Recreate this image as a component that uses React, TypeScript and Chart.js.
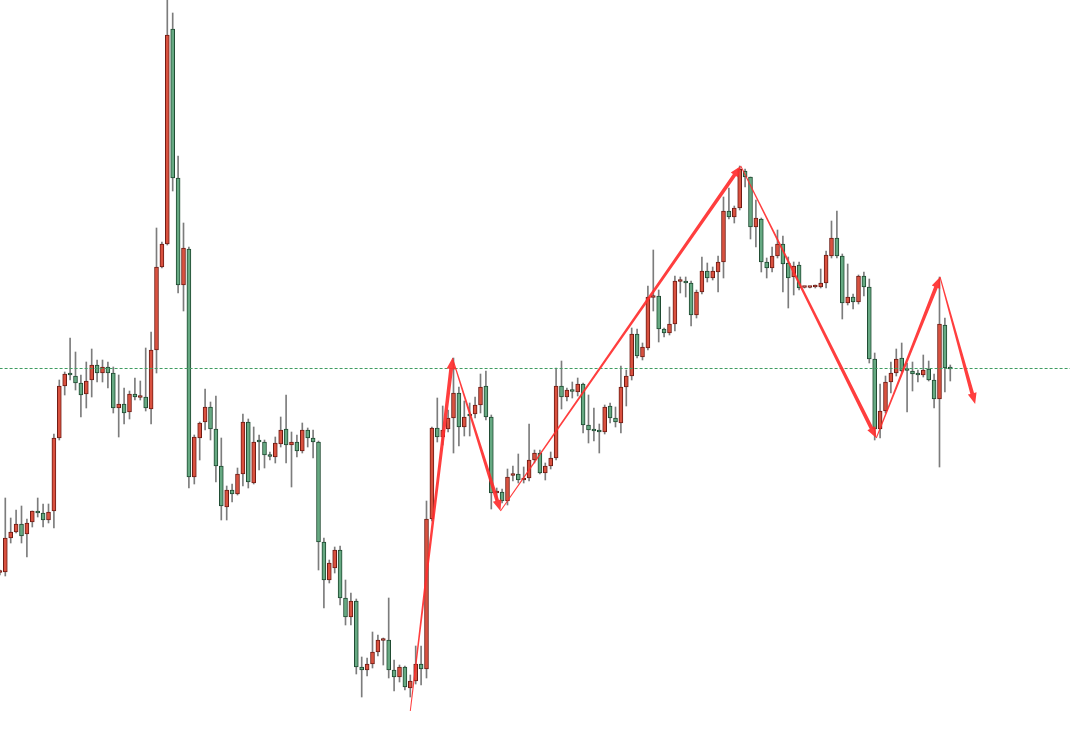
import React, { useEffect, useRef } from 'react';
import { Chart, registerables } from 'chart.js';

Chart.register(...registerables);

// OHLC prices, one entry per bar (index 0 is the partly hidden bar at the left edge)
const opens = [
  427.5, 428, 462, 468, 476, 466, 478, 488, 487, 480, 489, 562, 614, 626, 624, 617, 606, 620, 635, 627,
  633, 627, 592, 596, 588, 606, 602.5, 603, 591, 650, 733, 756, 971, 822, 715, 751, 523, 562, 578, 593,
  571, 534, 493, 510, 506, 526, 578, 517, 558.5, 558, 544, 543, 556, 571, 555, 558, 549, 570, 562, 558,
  458, 420, 432, 450, 402, 383, 399, 333, 330, 336, 348, 359.5, 360, 330, 323, 333, 312, 319, 336, 331,
  481, 572, 563, 571, 582, 607, 573, 586, 586, 595, 614, 583, 507, 508, 499, 524.5, 526, 520, 522, 540,
  547, 527, 534, 542, 614, 603, 610, 608, 616, 575, 570, 569, 568, 594, 582, 577, 613, 624, 666, 643,
  652, 702.5, 704, 671, 667, 676, 718.5, 719, 717, 685, 708, 729, 722, 728, 738, 789, 783, 792, 829, 823,
  773, 781, 738, 732, 744, 756, 737, 723, 735, 712.5, 712.5, 713, 713, 717, 744, 762, 744, 697, 703, 698,
  724, 713, 641, 571, 589, 618, 627, 642, 630, 629, 625.5, 625, 631, 620, 601, 675, 631.5,
];
const highs = [
  430, 502, 482, 490, 494, 481, 489, 502, 496, 496, 566, 620, 628, 662, 648, 625, 638, 651, 640, 640,
  638, 633, 625, 612, 609, 622, 619, 652, 668, 772, 758, 1005, 987, 844, 777, 753, 565, 578, 611, 598,
  604, 562, 514, 516, 532, 586, 581, 573, 565, 560, 548, 563, 583, 605, 568, 565, 577, 572, 570, 559,
  462, 440, 453, 454, 420, 407, 401, 343, 342, 368, 365, 362, 402, 340, 335, 334, 325, 354, 354, 499,
  573, 602, 594, 590, 642, 613, 599, 597, 603, 626, 629, 585, 512, 511, 531, 534, 546, 533, 576, 550,
  550, 537, 548, 632, 639, 612, 618, 622, 617, 605, 592, 576, 595, 597, 593, 634, 630, 672, 671, 657,
  714, 750, 710, 672, 693, 724, 723, 723, 719, 710, 743, 737, 733, 744, 803, 812, 794, 834, 831, 823,
  800, 782, 742, 753, 770, 764, 743, 738, 738, 713, 713, 715, 731, 749, 779, 789, 746, 736, 706, 725,
  728, 721, 647, 616, 624, 638, 651, 657, 637, 638, 630, 645, 639, 626, 723, 682, 635,
];
const lows = [
  425, 424, 457, 467, 457, 443, 473, 483, 473, 477, 472, 560, 605, 620, 610, 583, 592, 603, 618, 618,
  612, 587, 563, 576, 581, 600, 600, 589, 576, 627, 732, 755, 809, 707, 689, 512, 516, 540, 570, 560,
  518, 480, 480, 498, 505, 514, 512, 516, 530, 532, 540, 537, 553, 537, 513, 543, 547, 553, 542, 430,
  392, 417, 427, 395, 375, 375, 326, 303, 324, 332, 344, 335, 322, 309, 318, 310, 303, 316, 315, 322,
  479, 558, 555, 568, 547, 554, 564, 564, 582, 587, 580, 491, 500, 497, 495, 519, 517, 517, 519, 537,
  526, 520, 531, 540, 591, 599, 602, 604, 567, 557, 559, 547, 566, 577, 573, 567, 594, 620, 642, 640,
  650, 689, 658, 663, 665, 669, 707, 703, 674, 682, 706, 718, 720, 708, 722, 781, 777, 790, 813, 761,
  753, 728, 722, 728, 742, 708, 692, 705, 710, 712, 712, 712, 712, 712, 742, 742, 681, 695, 691, 696,
  704, 637, 560, 562, 587, 607, 624, 628, 588, 609, 618, 623, 619, 592, 533, 608, 619,
];
const closes = [
  428, 462, 468, 476, 464, 477, 489, 487, 480, 488, 562, 614, 626, 625, 617, 605, 619, 635, 627, 633,
  627, 592, 596, 587, 606, 603, 603, 592, 650, 733, 756, 965, 822, 715, 752, 523, 563, 577, 593, 571,
  534, 494, 510, 506, 526, 578, 518, 558, 558, 545, 543.5, 557, 570, 555, 558, 549, 570, 562, 558, 458,
  420, 437, 450, 402, 383, 399, 333, 330, 336, 348, 360, 360, 330, 323, 333, 313, 319, 336, 331, 481,
  572, 563, 570, 582, 607, 573, 583, 584, 595, 613, 583, 507, 508, 499, 523, 525.5, 520, 522, 540, 547,
  527, 534, 542, 614, 603, 610, 608.5, 616, 575, 570, 569, 568, 593, 582, 578, 613, 624, 666, 644, 653,
  703, 703, 671, 667, 676, 719, 719, 717, 685, 708, 729, 722, 729, 738, 789, 783, 792, 831, 823, 773,
  782, 738, 732, 744, 756, 736, 722, 734, 712, 713, 713, 713.5, 717, 745, 762, 744, 697, 703, 698, 724,
  713, 641, 571, 589, 618, 627, 641, 629, 629.5, 626, 625, 630, 620, 601, 676, 632, 631,
];

// Zig-zag swing points (bar index, price) joined by tapered arrows
const zigzagIndex = [76, 83.8, 92.7, 137.2, 162.3, 174.1, 180.6];
const zigzagPrice = [289, 642, 489, 834, 562, 723, 596];

// Current price marker (dashed line)
const currentPrice = 631.5;

// Visible window
const firstVisible = 0.0185;
const visibleBars = 198.15;
const priceMin = 254;
const priceMax = 1000;

const UP_FILL = '#d9513f';
const UP_BORDER = '#6e1b14';
const DOWN_FILL = '#66a982';
const DOWN_BORDER = '#1f4a31';
const WICK = '#7c7c7c';
const ARROW = 'rgba(255, 46, 46, 0.92)';

const zigzagPlugin = {
  id: 'zigzagArrows',
  afterDatasetsDraw(chart: any) {
    const { ctx, scales } = chart;
    const xs = scales.x;
    const ys = scales.y;
    ctx.save();
    ctx.fillStyle = ARROW;
    for (let k = 0; k < zigzagIndex.length - 1; k++) {
      const x1 = xs.getPixelForValue(zigzagIndex[k]);
      const y1 = ys.getPixelForValue(zigzagPrice[k]);
      const x2 = xs.getPixelForValue(zigzagIndex[k + 1]);
      const y2 = ys.getPixelForValue(zigzagPrice[k + 1]);
      const dx = x2 - x1;
      const dy = y2 - y1;
      const len = Math.hypot(dx, dy);
      const ux = dx / len;
      const uy = dy / len;
      const nx = -uy;
      const ny = ux;
      const headLen = 11;
      const headW = 4.5;
      const w0 = 0.5;
      const w1 = 1.9;
      const bx = x2 - ux * headLen;
      const by = y2 - uy * headLen;
      ctx.beginPath();
      ctx.moveTo(x1 + nx * w0, y1 + ny * w0);
      ctx.lineTo(bx + nx * w1, by + ny * w1);
      ctx.lineTo(bx + nx * headW, by + ny * headW);
      ctx.lineTo(x2, y2);
      ctx.lineTo(bx - nx * headW, by - ny * headW);
      ctx.lineTo(bx - nx * w1, by - ny * w1);
      ctx.lineTo(x1 - nx * w0, y1 - ny * w0);
      ctx.closePath();
      ctx.fill();
    }
    ctx.restore();
  },
};

export default function App() {
  const ref = useRef<HTMLCanvasElement | null>(null);

  useEffect(() => {
    if (!ref.current) return;
    const up = opens.map((o, i) => closes[i] > o);
    const bodies = opens.map((o, i) => ({ x: i, y: [o, closes[i]] }));
    const wicks = opens.map((_, i) => ({ x: i, y: [lows[i], highs[i]] }));

    const chart = new Chart(ref.current, {
      type: 'bar',
      data: {
        datasets: [
          {
            type: 'line',
            data: [
              { x: firstVisible - 1, y: currentPrice },
              { x: firstVisible + visibleBars + 1, y: currentPrice },
            ],
            borderColor: '#3f9d62',
            borderWidth: 1,
            borderDash: [3, 2],
            pointRadius: 0,
            order: 0,
          } as any,
          {
            data: bodies as any,
            backgroundColor: up.map((u) => (u ? UP_FILL : DOWN_FILL)),
            borderColor: up.map((u) => (u ? UP_BORDER : DOWN_BORDER)),
            borderWidth: 1,
            borderSkipped: false,
            barThickness: 4,
            minBarLength: 2,
            grouped: false,
            order: 1,
          } as any,
          {
            data: wicks as any,
            backgroundColor: WICK,
            borderWidth: 0,
            barThickness: 1,
            grouped: false,
            order: 2,
          } as any,
        ],
      },
      options: {
        animation: false,
        responsive: false,
        devicePixelRatio: 1,
        events: [],
        layout: { padding: 0 },
        plugins: { legend: { display: false }, tooltip: { enabled: false } },
        scales: {
          x: {
            type: 'linear',
            display: false,
            offset: false,
            min: firstVisible,
            max: firstVisible + visibleBars,
          },
          y: {
            type: 'linear',
            display: false,
            min: priceMin,
            max: priceMax,
          },
        },
      } as any,
      plugins: [zigzagPlugin],
    });
    return () => chart.destroy();
  }, []);

  return (
    <div style={{ position: 'fixed', left: 0, top: 0, width: 1070, height: 746, background: '#ffffff' }}>
      <canvas ref={ref} width={1070} height={746} style={{ display: 'block', width: 1070, height: 746 }} />
    </div>
  );
}
